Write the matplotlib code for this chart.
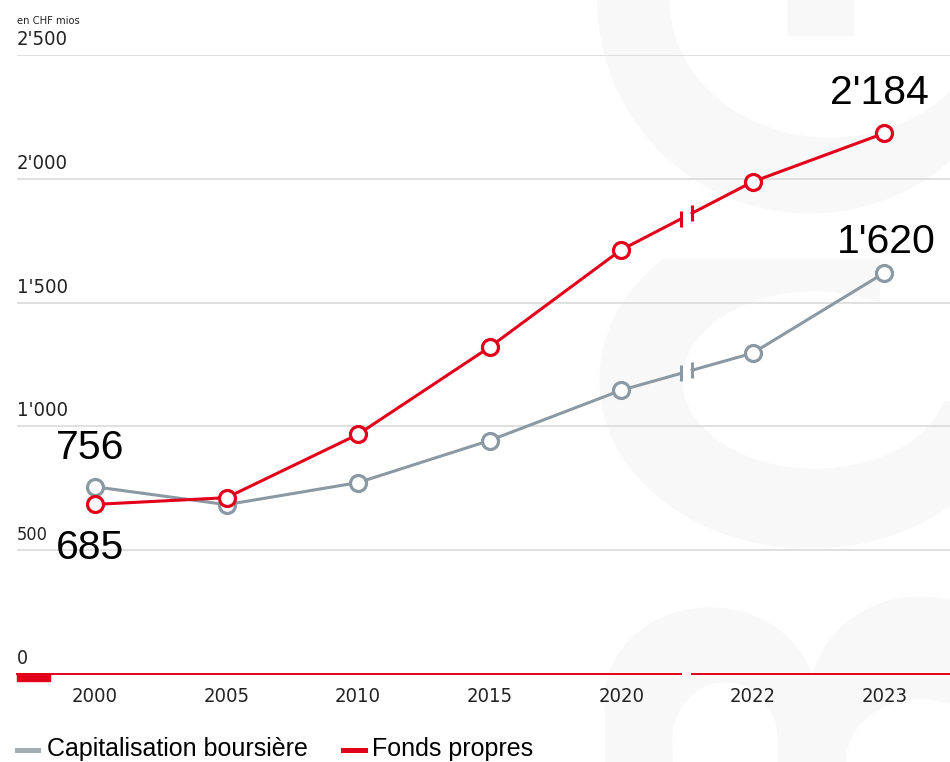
import matplotlib.pyplot as plt
import numpy as np
from matplotlib.patches import Ellipse, Rectangle
from matplotlib import font_manager as fm

# === DONNÉES ===
annees = ["2000", "2005", "2010", "2015", "2020", "2022", "2023"]
capitalisation = [756, 684, 773, 943, 1146, 1296, 1620]
fonds_propres = [685, 712, 968, 1320, 1713, 1988, 2184]
y_ticks = [0, 500, 1000, 1500, 2000, 2500]
y_labels = ["0", "500", "1'000", "1'500", "2'000", "2'500"]

ROUGE = "#e2001a"
GRIS = "#8a99a3"
FOND = "#f8f8f8"
W, H = 950, 762

# police étroite si disponible
cond = fm.findfont(fm.FontProperties(family="DejaVu Sans", stretch="condensed"))
if "Condensed" in cond:
    AXE_FONT = dict(family="DejaVu Sans", stretch="condensed")
    TAILLES = [14, 13, 14.5, 14.5, 14.5, 14.5]
    TICK_FS, UNIT_FS = 14.5, 8
else:
    AXE_FONT = dict(family="Roboto")
    TAILLES = [13.5, 12, 14, 14, 14, 14]
    TICK_FS, UNIT_FS = 14, 8.5

fig = plt.figure(figsize=(W / 100, H / 100), dpi=100)

# --- filigrane en arrière-plan (coordonnées pixel) ---
bg = fig.add_axes([0, 0, 1, 1], zorder=0)
bg.set_xlim(0, W)
bg.set_ylim(H, 0)
bg.axis("off")
# "c" du milieu
bg.add_patch(Ellipse((810, 380), 420, 336, color=FOND))
bg.add_patch(Ellipse((815, 380), 264, 176, color="white"))
bg.add_patch(Rectangle((880, 250), 80, 150, color="white"))
bg.add_patch(Rectangle((0, 0), W, 257, color="white"))
# "e" du haut
bg.add_patch(Ellipse((810, 0), 424, 426, color=FOND))
bg.add_patch(Ellipse((830, 0), 320, 274, color="white"))
bg.add_patch(Rectangle((788, 0), 65, 35, color=FOND))
# "m" du bas
bg.add_patch(Ellipse((710, 700), 210, 184, color=FOND))
bg.add_patch(Rectangle((605, 700), 210, 70, color=FOND))
bg.add_patch(Ellipse((920, 700), 220, 206, color=FOND))
bg.add_patch(Rectangle((810, 700), 220, 70, color=FOND))
bg.add_patch(Ellipse((725, 740), 104, 114, color="white"))
bg.add_patch(Rectangle((673, 740), 104, 30, color="white"))
bg.add_patch(Ellipse((920, 760), 146, 120, color="white"))
bg.add_patch(Rectangle((847, 760), 146, 10, color="white"))
# petite barre rouge sous l'axe
bg.add_patch(Rectangle((17, 674), 33, 7, color=ROUGE))

# --- graphique principal ---
ax = fig.add_axes([17 / W, (H - 674) / H, 933 / W, 619 / H], zorder=1)
ax.patch.set_alpha(0)
x = np.arange(len(annees))
ax.set_xlim(-0.593, 6.5)
ax.set_ylim(0, 2500)
for s in ax.spines.values():
    s.set_visible(False)
ax.set_yticks([])
ax.set_xticks(x)
ax.set_xticklabels(annees, fontsize=TICK_FS, color="#222222", **AXE_FONT)
ax.tick_params(axis="x", length=0, pad=9)

for v in y_ticks[1:]:
    ax.axhline(v, color="#dadada", lw=1.2, zorder=1)

# axe horizontal rouge avec coupure
b1, b2 = 4.455, 4.54
ax.plot([-0.593, b1], [0, 0], color=ROUGE, lw=1.4, clip_on=False, zorder=2)
ax.plot([b2, 6.5], [0, 0], color=ROUGE, lw=1.4, clip_on=False, zorder=2)

for lab, v, fs in zip(y_labels, y_ticks, TAILLES):
    ax.annotate(lab, (0, v), xycoords=("axes fraction", "data"), xytext=(0, 6),
                textcoords="offset pixels", ha="left", va="bottom", fontsize=fs,
                color="#222222", **AXE_FONT)
ax.annotate("en CHF mios", (0, 2500), xycoords=("axes fraction", "data"), xytext=(0, 29),
            textcoords="offset pixels", ha="left", va="bottom", fontsize=UNIT_FS,
            color="#222222", **AXE_FONT)


def trace(valeurs, couleur):
    vals = np.array(valeurs, dtype=float)
    y1 = np.interp(b1, x, vals)
    y2 = np.interp(b2, x, vals)
    ax.plot(list(x[:5]) + [b1], list(vals[:5]) + [y1], color=couleur, lw=2.2, zorder=3)
    ax.plot([b2] + list(x[5:]), [y2] + list(vals[5:]), color=couleur, lw=2.2, zorder=3)
    ax.plot([b1, b2], [y1, y2], ls="none", marker="|", ms=11, mew=2.2, color=couleur, zorder=3)
    ax.plot(x, vals, ls="none", marker="o", ms=11.5, mew=2.3, mfc="white", mec=couleur, zorder=4)


trace(capitalisation, GRIS)
trace(fonds_propres, ROUGE)


def fmt(v):
    return f"{v // 1000}'{v % 1000:03d}" if v >= 1000 else str(v)


# étiquettes de valeurs
lab_font = dict(fontsize=29.5, family="Liberation Sans", color="black", ha="center", va="center")
ax.annotate(fmt(capitalisation[0]), (x[0], capitalisation[0]), xytext=(-5, 39), textcoords="offset pixels", **lab_font)
ax.annotate(fmt(fonds_propres[0]), (x[0], fonds_propres[0]), xytext=(-5, -44), textcoords="offset pixels", **lab_font)
ax.annotate(fmt(fonds_propres[-1]), (x[-1], fonds_propres[-1]), xytext=(-5, 40), textcoords="offset pixels", **lab_font)
ax.annotate(fmt(capitalisation[-1]), (x[-1], capitalisation[-1]), xytext=(2, 31), textcoords="offset pixels", **lab_font)

# légende
fig.add_artist(plt.Line2D([17 / W, 38 / W], [(H - 750) / H] * 2, color="#a3adb4", lw=3.6))
fig.text(47 / W, (H - 749) / H, "Capitalisation boursière", fontsize=18, family="Liberation Sans",
         va="center", ha="left", color="black")
fig.add_artist(plt.Line2D([343 / W, 365 / W], [(H - 750) / H] * 2, color=ROUGE, lw=3.6))
fig.text(372 / W, (H - 749) / H, "Fonds propres", fontsize=18, family="Liberation Sans",
         va="center", ha="left", color="black")

fig.savefig("out.png", dpi=100)
